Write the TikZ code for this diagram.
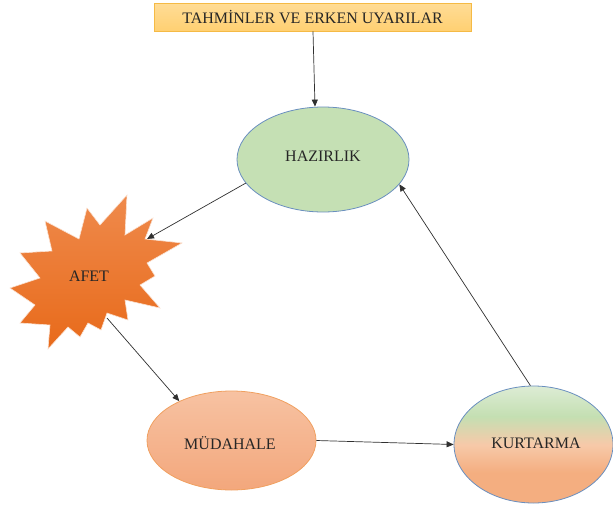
\documentclass[tikz,border=0pt]{standalone}
\usepackage{fontspec}
\setmainfont{Liberation Serif}
\usetikzlibrary{shapes.geometric,arrows.meta}
\definecolor{hazfill}{HTML}{C5E0B4}
\definecolor{blueline}{HTML}{6A8FBF}
\definecolor{mudtop}{HTML}{F7C2A2}
\definecolor{mudbot}{HTML}{F3A77C}
\definecolor{mudline}{HTML}{F0A060}
\definecolor{klight}{HTML}{DDECD5}
\definecolor{kgreen}{HTML}{C4DFB2}
\definecolor{kpeach}{HTML}{F7C9A9}
\definecolor{korange}{HTML}{F4AE80}
\definecolor{startop}{HTML}{EF8A4C}
\definecolor{starbot}{HTML}{E86A1A}
\definecolor{titletop}{HTML}{FFDC96}
\definecolor{titlebot}{HTML}{FFD072}
\definecolor{titleline}{HTML}{F5BA45}
\definecolor{arrowc}{HTML}{303030}
\pgfdeclareverticalshading{kurshade}{100bp}{color(0bp)=(korange); color(38bp)=(korange); color(50bp)=(kpeach); color(62bp)=(kgreen); color(75bp)=(klight); color(100bp)=(klight)}
\tikzset{
  lbl/.style={font=\fontsize{16pt}{18pt}\selectfont, text=black!85},
  oval/.style={ellipse, inner sep=0pt, line width=0.8pt, lbl},
  conn/.style={draw=arrowc, line width=0.7pt, -{Triangle[length=7pt,width=6pt]}}
}
\begin{document}
\begin{tikzpicture}[x=1pt,y=-1pt]
\useasboundingbox (0,0) rectangle (613,506);
% title
\node[lbl, draw=titleline, line width=0.8pt, top color=titletop, bottom color=titlebot,
  minimum width=317pt, minimum height=28pt, inner sep=0pt] (title) at (312.5,17) {TAHMİNLER VE ERKEN UYARILAR};
% ovals
\node[oval, draw=blueline, fill=hazfill, minimum width=172pt, minimum height=105pt] (haz) at (323,159.5) {};
\node[lbl] (hazt) at (323,156) {HAZIRLIK};
\node[oval, draw=mudline, top color=mudtop, bottom color=mudbot, minimum width=169pt, minimum height=99pt] (mud) at (231.5,440.5) {};
\node[lbl] (mudt) at (230,443) {MÜDAHALE};
\node[oval, draw=blueline, shading=kurshade, minimum width=159pt, minimum height=117pt] (kur) at (533.5,444.5) {};
\node[lbl] (kurt) at (536,443) {KURTARMA};
% star
\path[draw=white!80!starbot, line width=0.6pt, top color=startop, bottom color=starbot]
 (127,195) -- (100,225) -- (87,208) -- (79,239) -- (45,221) -- (52,251) -- (20,253) -- (40,278)
 -- (10,288) -- (35,305) -- (20,323) -- (50,325) -- (48,349) -- (68,327) -- (80,337) -- (88,323)
 -- (101,330) -- (107,313) -- (128,320) -- (125,300) -- (160,308) -- (140,285) -- (155,276)
 -- (147,263) -- (182,243) -- (145,239) -- (153,218) -- (125,235) -- cycle;
\node[lbl] (afet) at (89,276) {AFET};
\coordinate (afetin) at (147,239);
\coordinate (afetout) at (107,318);
% connectors
\draw[conn] (title.south -| 313,0) -- (haz.north -| 315,0);
\draw[conn] (haz.197) -- (afetin);
\draw[conn] (afetout) -- (mud.143);
\draw[conn] (mud.east) -- (kur.west);
\draw[conn] (kur.93) -- (haz.-18);
\end{tikzpicture}
\end{document}
